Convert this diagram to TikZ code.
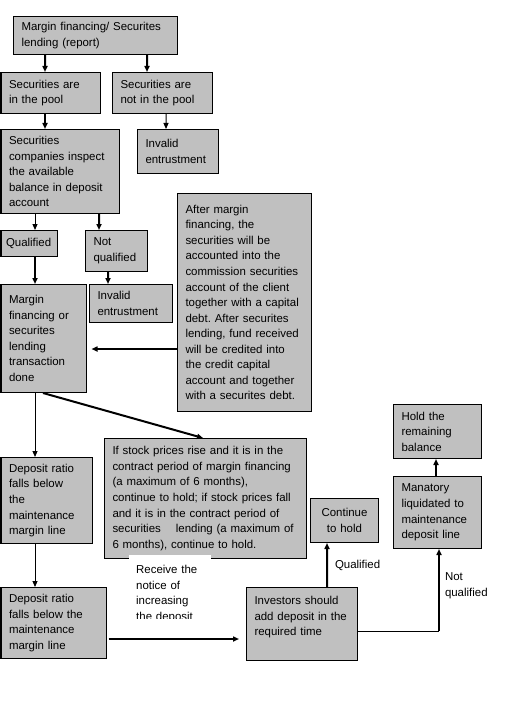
\documentclass[tikz,border=0pt]{standalone}
\usepackage{fontspec}
\setmainfont{Liberation Sans}
\usepackage{tikz}
\usetikzlibrary{arrows.meta, calc}
\definecolor{boxgray}{HTML}{C0C0C0}
\newcommand{\boxfont}{\fontsize{11.5}{15.6}\selectfont\frenchspacing}

\begin{document}
\begin{tikzpicture}[x=1bp, y=-1bp,
    box/.style={draw, line width=1bp, fill=boxgray, anchor=north west, align=left,
                inner xsep=8bp, inner ysep=3bp, font=\boxfont},
    lbl/.style={align=left, inner xsep=5bp, inner ysep=0pt, font=\boxfont},
    arr/.style={-{Triangle[length=6bp, width=5bp]}},
    thk/.style={arr, line width=2bp},
    thn/.style={arr, line width=1bp},
]
\useasboundingbox (0,0) rectangle (510,702);

\node[box, text width=148bp, minimum height=38bp] (report) at (13,16) {Margin financing/ Securites\\lending (report)};
\node[box, text width=83bp, minimum height=41bp] (pool) at (0.5,72) {Securities are\\in the pool};
\node[box, text width=84bp, minimum height=41bp] (notpool) at (112,72) {Securities are\\not in the pool};
\node[box, text width=65bp, minimum height=44bp] (inv1) at (137,129) {Invalid\\entrustment};
\node[box, text width=102bp, minimum height=84bp] (inspect) at (0.5,129) {Securities\\companies inspect\\the available\\balance in deposit\\account};
\node[box, text width=46bp, inner xsep=5bp, minimum height=26bp] (qual) at (0.5,230) {Qualified};
\node[box, text width=46bp, minimum height=41bp] (notqual) at (85,230) {Not\\qualified};
\node[box, text width=67bp, minimum height=38bp] (inv2) at (89,284) {Invalid\\entrustment};
\node[box, text width=69bp, minimum height=108bp] (done) at (0.5,284) {Margin\\financing or\\securites\\lending\\transaction\\done};
\node[box, text width=118bp, minimum height=218bp] (big) at (177,193) {After margin\\financing, the\\securities will be\\accounted into the\\commission securities\\account of the client\\together with a capital\\debt. After securites\\lending, fund received\\will be credited into\\the credit capital\\account and together\\with a securites debt.};
\node[box, text width=186bp, minimum height=120bp] (ifstock) at (104,438) {If stock prices rise and it is in the\\contract period of margin financing\\(a maximum of 6 months),\\continue to hold; if stock prices fall\\and it is in the contract period of\\securities\hspace{15bp}lending (a maximum of\\6 months), continue to hold.};
\node[box, text width=75bp, minimum height=86bp] (dep1) at (0.5,457) {Deposit ratio\\falls below\\the\\maintenance\\margin line};
\node[box, text width=89bp, minimum height=71bp] (dep2) at (0.5,587) {Deposit ratio\\falls below the\\maintenance\\margin line};
\node[box, text width=95bp, minimum height=73bp] (inv) at (246,587) {Investors should\\add deposit in the\\required time\\ \mbox{}};
\node[box, text width=52bp, minimum height=44bp, align=center] (cont) at (310,498) {Continue\\to hold};
\node[box, text width=72bp, minimum height=72bp] (mana) at (393,476) {Manatory\\liquidated to\\maintenance\\deposit line};
\node[box, text width=72bp, minimum height=54bp] (hold) at (393,404) {Hold the\\remaining\\balance};

\begin{scope}
  \clip (129,555) rectangle (212,618);
  \node[lbl, fill=white, anchor=north west, text width=68bp, inner xsep=7bp, inner ysep=10bp] (notice) at (129,555) {Receive the\\notice of\\increasing\\the deposit};
\end{scope}

\draw[thk] ([xshift=32bp]report.south west) -- ([xshift=44.5bp]pool.north west);
\draw[thk] ([xshift=134bp]report.south west) -- ([xshift=35bp]notpool.north west);
\draw[thk] ([xshift=44.5bp]pool.south west) -- ([xshift=44.5bp]inspect.north west);
\draw[thn] ([xshift=54bp]notpool.south west) -- ([xshift=29bp]inv1.north west);
\draw[thn] ([xshift=34.5bp]inspect.south west) -- ([xshift=34.5bp]qual.north west);
\draw[thk] ([xshift=98.5bp]inspect.south west) -- ([xshift=14bp]notqual.north west);
\draw[thk] ([xshift=34.5bp]qual.south west) -- ([xshift=34.5bp]done.north west);
\draw[thk] ([xshift=23bp]notqual.south west) -- ([xshift=19bp]inv2.north west);
\draw[thk, shorten >=5bp] ([yshift=63bp]big.south west) -- ([yshift=63bp]big.south west -| done.east);
\draw[thn] ([xshift=34.5bp]done.south west) -- ([xshift=34.5bp]dep1.north west);
\draw[thk] ([xshift=42.5bp]done.south west) -- ([xshift=99bp]ifstock.north west);
\draw[thn] ([xshift=34.5bp]dep1.south west) -- ([xshift=34.5bp]dep2.north west);
\draw[thk, shorten <=2bp, shorten >=7bp] ([yshift=20bp]dep2.south east) -- ([yshift=20bp]dep2.south east -| inv.west);
\draw[thk] ([xshift=81bp]inv.north west) -- ([xshift=17bp]cont.south west)
  node[lbl, pos=0.5, right, xshift=2bp] {Qualified};
\coordinate (manain) at ([xshift=46bp]mana.south west);
\draw[line width=1bp] ([yshift=30bp]inv.south east) -- ([yshift=30bp]inv.south east -| manain) coordinate (nq);
\draw[thk] (nq) -- (manain) node[lbl, pos=0.55, right] {Not\\qualified};
\draw[thk] ([xshift=43bp]mana.north west) -- ([xshift=43bp]hold.south west);

\end{tikzpicture}
\end{document}
